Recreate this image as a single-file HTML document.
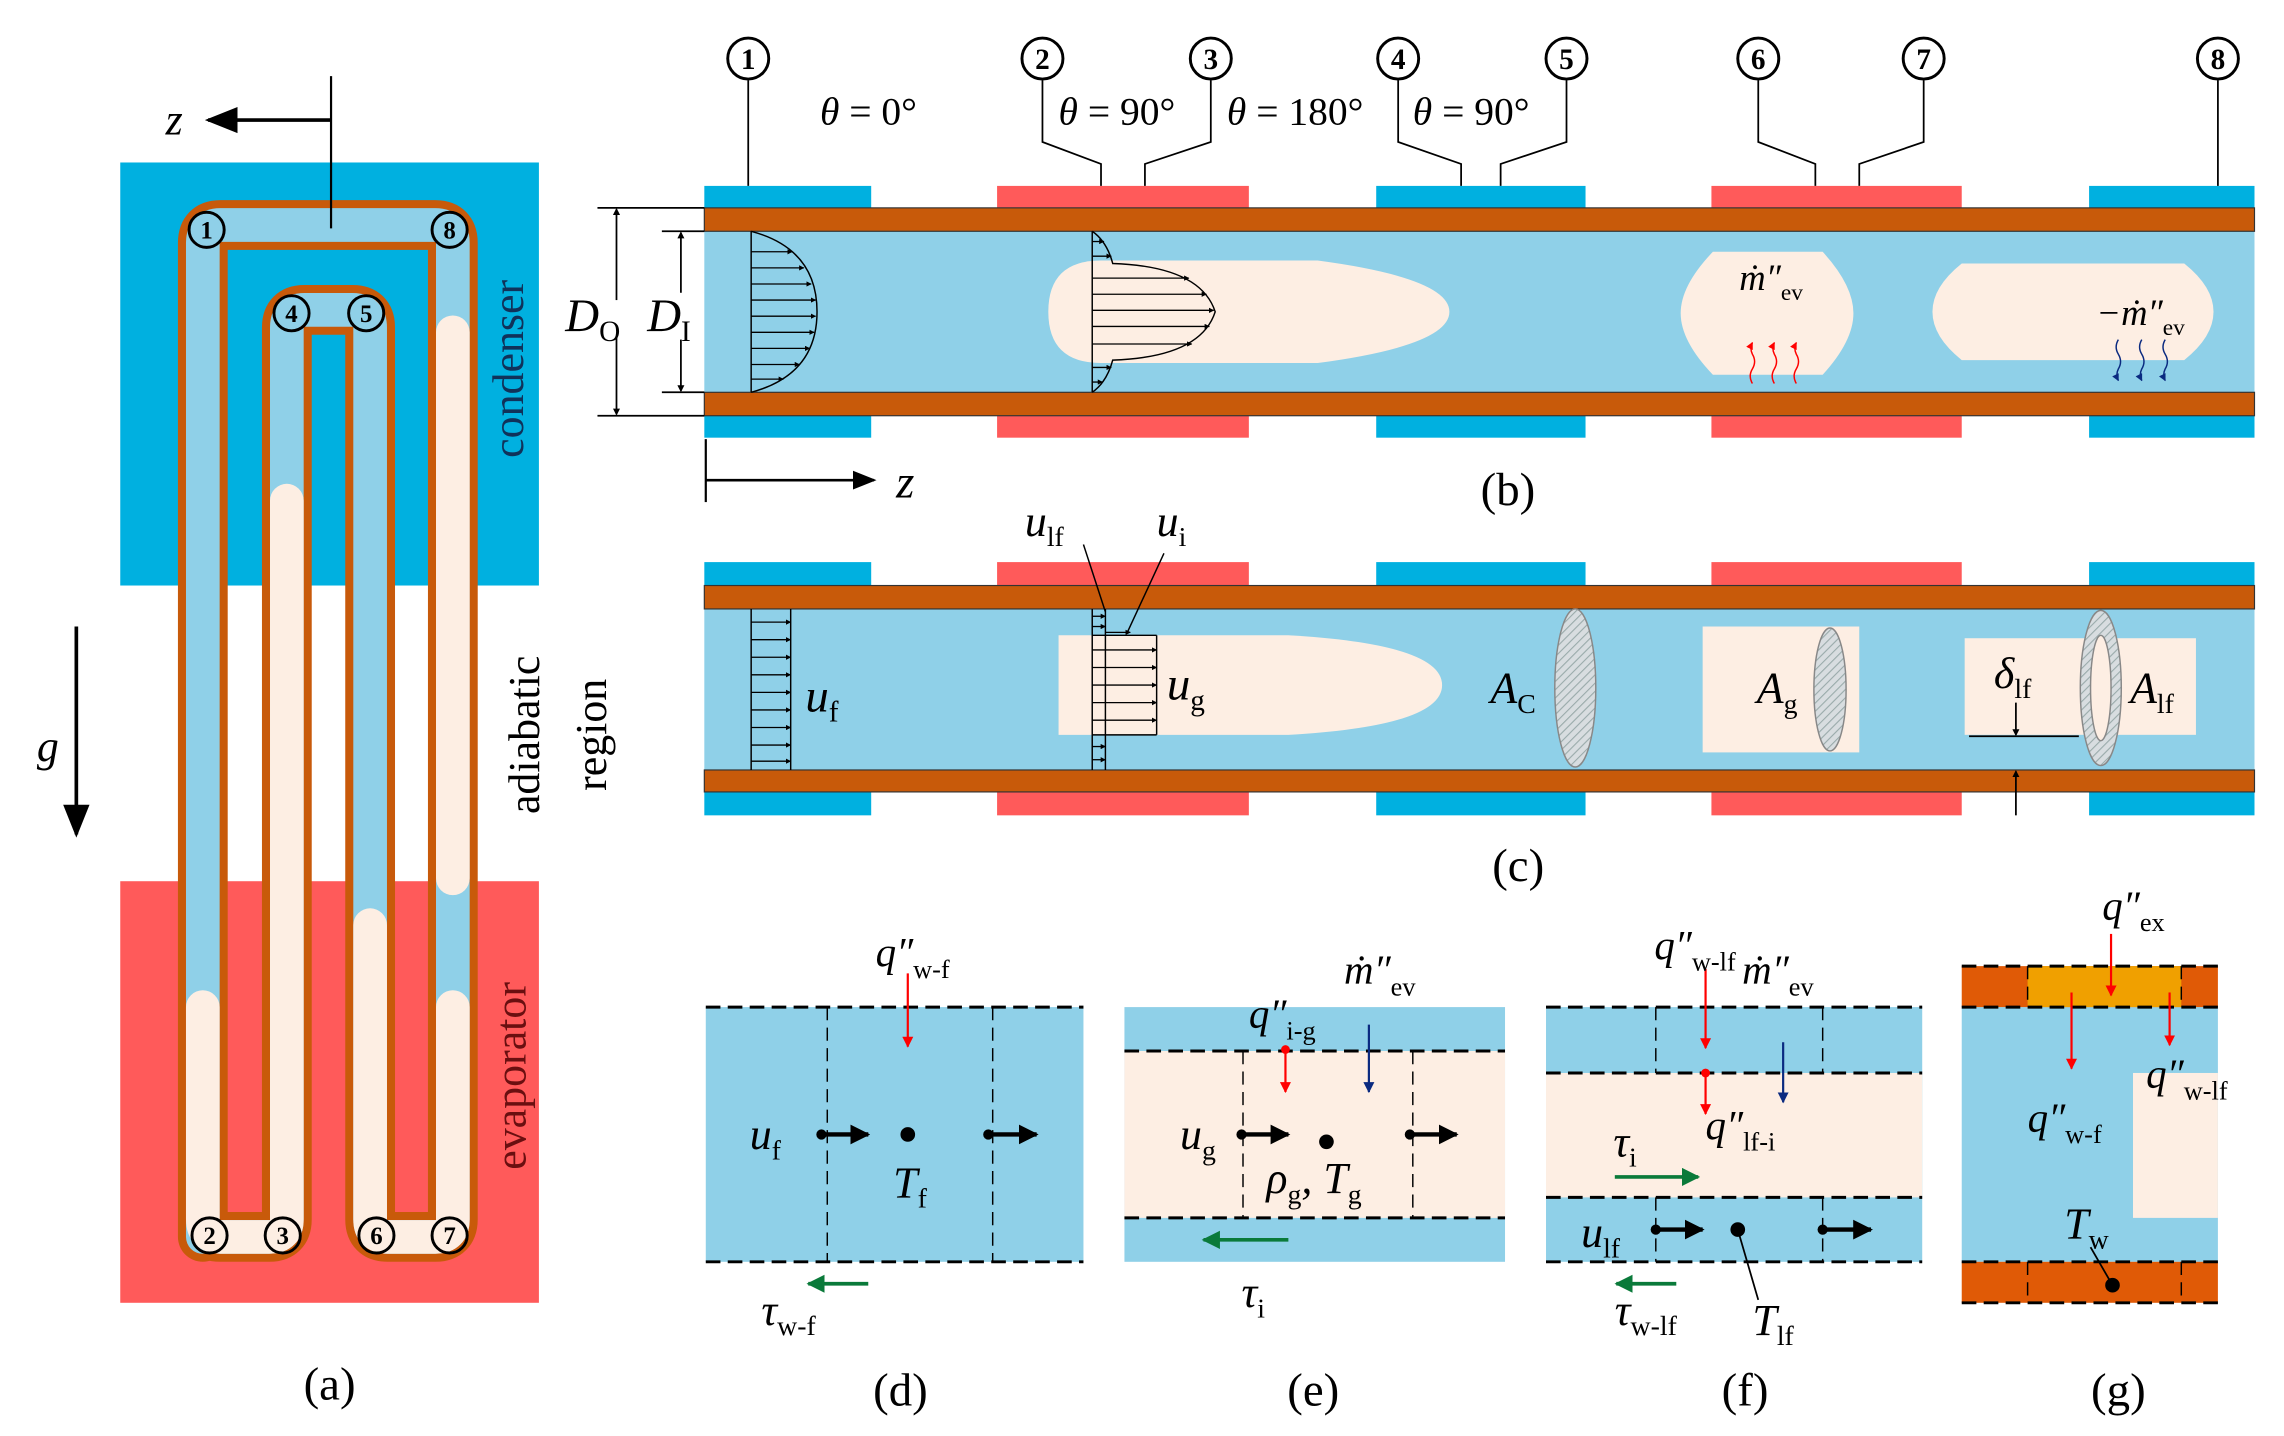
<!DOCTYPE html>
<html><head><meta charset="utf-8"><style>html,body{margin:0;padding:0;background:#fff}svg{display:block}
text{font-family:"Liberation Serif",serif;fill:#000}
.it{font-style:italic}
</style></head><body>
<svg width="2284" height="1436" viewBox="0 0 1560 981" xmlns="http://www.w3.org/2000/svg">
<defs>
<marker id="ah" viewBox="0 0 10 10" refX="9" refY="5" markerWidth="5" markerHeight="5" orient="auto"><path d="M0,0L10,5L0,10z" fill="#000"/></marker>
<marker id="ahs" viewBox="0 0 10 10" refX="9" refY="5" markerWidth="9" markerHeight="9" orient="auto"><path d="M0,1L10,5L0,9z" fill="#000"/></marker>
<marker id="ahm" viewBox="0 0 10 10" refX="9" refY="5" markerWidth="4.5" markerHeight="4.5" orient="auto"><path d="M0,0L10,5L0,10z" fill="#000"/></marker>
<marker id="ahb" viewBox="0 0 10 10" refX="9" refY="5" markerWidth="4" markerHeight="4" orient="auto"><path d="M0,0L10,5L0,10z" fill="#000"/></marker>
<marker id="ahr" viewBox="0 0 10 10" refX="9" refY="5" markerWidth="5" markerHeight="5" orient="auto"><path d="M0,0L10,5L0,10z" fill="#f00"/></marker>
<marker id="ahn" viewBox="0 0 10 10" refX="9" refY="5" markerWidth="5" markerHeight="5" orient="auto"><path d="M0,0L10,5L0,10z" fill="#0a2a80"/></marker>
<marker id="ahg" viewBox="0 0 10 10" refX="9" refY="5" markerWidth="5" markerHeight="5" orient="auto"><path d="M0,0L10,5L0,10z" fill="#0a7a3a"/></marker>
<marker id="ahk" viewBox="0 0 10 10" refX="8" refY="5" markerWidth="4" markerHeight="4" orient="auto"><path d="M0,0L10,5L0,10z" fill="#000"/></marker>
<pattern id="hatch" width="4" height="4" patternUnits="userSpaceOnUse" patternTransform="rotate(45)"><rect width="4" height="4" fill="#d8dde0"/><line x1="0" y1="0" x2="0" y2="4" stroke="#9aa" stroke-width="1.5"/></pattern>
</defs>

<!-- ===== Panel (a) ===== -->
<rect x="82" y="111" width="286" height="289" fill="#00b0e0"/>
<rect x="82" y="602" width="286" height="288" fill="#ff5a5a"/>
<path d="M138.4,845 V166 Q138.4,153.7 150.4,153.7 H297.2 Q309.2,153.7 309.2,166 V833 Q309.2,845 297.2,845 H264.7 Q252.7,845 252.7,833 V223.7 Q252.7,211.7 240.7,211.7 H207.8 Q195.8,211.7 195.8,223.7 V833 Q195.8,845 183.8,845 H150.4 Q138.4,845 138.4,833 Z" fill="none" stroke="#c85a0a" stroke-width="34" stroke-linejoin="round"/>
<path d="M138.4,845 V166 Q138.4,153.7 150.4,153.7 H297.2 Q309.2,153.7 309.2,166 V833 Q309.2,845 297.2,845 H264.7 Q252.7,845 252.7,833 V223.7 Q252.7,211.7 240.7,211.7 H207.8 Q195.8,211.7 195.8,223.7 V833 Q195.8,845 183.8,845 H150.4 Q138.4,845 138.4,833 Z" fill="none" stroke="#8fd0e8" stroke-width="23" stroke-linejoin="round"/>
<path d="M138.4,688 V833 Q138.4,845 150.4,845 H183.8 Q195.8,845 195.8,833 V342" fill="none" stroke="#fdeee3" stroke-width="23" stroke-linecap="round"/>
<path d="M252.7,632 V833 Q252.7,845 264.7,845 H297.2 Q309.2,845 309.2,833 V688" fill="none" stroke="#fdeee3" stroke-width="23" stroke-linecap="round"/>
<path d="M309.2,227 V600" fill="none" stroke="#fdeee3" stroke-width="23" stroke-linecap="round"/>
<g fill="none" stroke="#000" stroke-width="2">
<circle cx="141" cy="157" r="12"/><circle cx="307" cy="157" r="12"/>
<circle cx="199" cy="214" r="12"/><circle cx="250" cy="214" r="12"/>
<circle cx="143" cy="844" r="12"/><circle cx="193" cy="844" r="12"/>
<circle cx="257" cy="844" r="12"/><circle cx="307" cy="844" r="12"/>
</g>
<g font-weight="bold" font-size="17" text-anchor="middle" style="font-family:'Liberation Sans',sans-serif">
<text x="141" y="163">1</text><text x="307" y="163">8</text><text x="199" y="220">4</text><text x="250" y="220">5</text>
<text x="143" y="850">2</text><text x="193" y="850">3</text><text x="257" y="850">6</text><text x="307" y="850">7</text>
</g>
<line x1="226" y1="52" x2="226" y2="156" stroke="#000" stroke-width="1.5"/>
<line x1="226" y1="82" x2="142" y2="82" stroke="#000" stroke-width="2.5" marker-end="url(#ahs)"/>
<text x="113" y="92" class="it" font-size="30">z</text>
<line x1="52" y1="428" x2="52" y2="570" stroke="#000" stroke-width="2.5" marker-end="url(#ahs)"/>
<text x="25" y="520" class="it" font-size="30">g</text>
<text transform="translate(357,252) rotate(-90)" text-anchor="middle" font-size="30" style="fill:#10325a">condenser</text>
<text transform="translate(368,502) rotate(-90)" text-anchor="middle" font-size="30">adiabatic</text>
<text transform="translate(414,502) rotate(-90)" text-anchor="middle" font-size="30">region</text>
<text transform="translate(359,735) rotate(-90)" text-anchor="middle" font-size="30" style="fill:#6a0f10">evaporator</text>
<text x="225" y="956" text-anchor="middle" font-size="32">(a)</text>

<!-- ===== Panel (b) ===== -->
<g fill="#00b0e0"><rect x="481" y="127" width="114" height="15"/><rect x="940" y="127" width="143" height="15"/><rect x="1427" y="127" width="113" height="15"/>
<rect x="481" y="284" width="114" height="15"/><rect x="940" y="284" width="143" height="15"/><rect x="1427" y="284" width="113" height="15"/></g>
<g fill="#ff5a5a"><rect x="681" y="127" width="172" height="15"/><rect x="1169" y="127" width="171" height="15"/>
<rect x="681" y="284" width="172" height="15"/><rect x="1169" y="284" width="171" height="15"/></g>
<rect x="481" y="158" width="1059" height="110" fill="#8fd0e8"/>
<rect x="481" y="142" width="1059" height="16" fill="#c85a0a" stroke="#333" stroke-width="0.8"/>
<rect x="481" y="268" width="1059" height="16" fill="#c85a0a" stroke="#333" stroke-width="0.8"/>
<g fill="none" stroke="#000" stroke-width="2">
<circle cx="511" cy="40" r="14"/><circle cx="712" cy="40" r="14"/><circle cx="827" cy="40" r="14"/><circle cx="955" cy="40" r="14"/><circle cx="1070" cy="40" r="14"/><circle cx="1201" cy="40" r="14"/><circle cx="1314" cy="40" r="14"/><circle cx="1515" cy="40" r="14"/>
</g>
<g font-weight="bold" font-size="20" text-anchor="middle" style="font-family:'Liberation Sans',sans-serif">
<text x="511" y="47">1</text><text x="712" y="47">2</text><text x="827" y="47">3</text><text x="955" y="47">4</text><text x="1070" y="47">5</text><text x="1201" y="47">6</text><text x="1314" y="47">7</text><text x="1515" y="47">8</text>
</g>
<g fill="none" stroke="#000" stroke-width="1.2">
<path d="M511,55V127"/><path d="M712,55V97L752,112V127"/><path d="M827,55V97L782,112V127"/>
<path d="M955,55V97L998,112V127"/><path d="M1070,55V97L1025,112V127"/>
<path d="M1201,55V97L1240,112V127"/><path d="M1314,55V97L1270,112V127"/><path d="M1515,55V127"/>
</g>
<g font-size="27"><text x="560" y="85" class="it">θ <tspan font-style="normal">= 0°</tspan></text>
<text x="723" y="85" class="it">θ <tspan font-style="normal">= 90°</tspan></text>
<text x="838" y="85" class="it">θ <tspan font-style="normal">= 180°</tspan></text>
<text x="965" y="85" class="it">θ <tspan font-style="normal">= 90°</tspan></text></g>
<g stroke="#000" stroke-width="1.2" fill="none">
<path d="M408,142H481M408,284H481M452,158H481M452,268H481"/>
<line x1="421" y1="205" x2="421" y2="143" marker-end="url(#ahk)"/><line x1="421" y1="230" x2="421" y2="283" marker-end="url(#ahk)"/>
<line x1="465" y1="200" x2="465" y2="159" marker-end="url(#ahk)"/><line x1="465" y1="232" x2="465" y2="267" marker-end="url(#ahk)"/>
</g>
<text x="386" y="226" class="it" font-size="32">D<tspan font-style="normal" font-size="20" dy="7">O</tspan></text>
<text x="442" y="226" class="it" font-size="32">D<tspan font-style="normal" font-size="20" dy="7">I</tspan></text>
<path d="M752,178 H900 Q990,190 990,213 Q990,236 900,248 H752 Q716,248 716,213 Q716,178 752,178Z" fill="#fdeee3"/>
<g stroke="#000" stroke-width="1" fill="none">
<line x1="513" y1="158" x2="513" y2="268"/>
<path d="M513,158 Q558,170 558,213 Q558,256 513,268"/>
<line x1="746" y1="158" x2="746" y2="268"/>
<path d="M746,158 Q756,165 760,180 Q820,182 830,213 Q820,244 760,246 Q756,261 746,268"/>
</g>
<g stroke="#000" stroke-width="0.9" marker-end="url(#ahb)">
<line x1="513" y1="172" x2="541" y2="172"/><line x1="513" y1="183" x2="549" y2="183"/><line x1="513" y1="194" x2="554" y2="194"/><line x1="513" y1="205" x2="557" y2="205"/><line x1="513" y1="216" x2="557" y2="216"/><line x1="513" y1="227" x2="556" y2="227"/><line x1="513" y1="238" x2="553" y2="238"/><line x1="513" y1="249" x2="546" y2="249"/><line x1="513" y1="259" x2="535" y2="259"/>
<line x1="746" y1="165" x2="754" y2="165"/><line x1="746" y1="175" x2="759" y2="175"/><line x1="746" y1="190" x2="812" y2="190"/><line x1="746" y1="201" x2="824" y2="201"/><line x1="746" y1="212" x2="829" y2="212"/><line x1="746" y1="223" x2="826" y2="223"/><line x1="746" y1="235" x2="814" y2="235"/><line x1="746" y1="251" x2="759" y2="251"/><line x1="746" y1="261" x2="753" y2="261"/>
</g>
<path d="M1170,172 H1245 Q1266,195 1266,214 Q1266,233 1245,256 H1170 Q1148,233 1148,214 Q1148,195 1170,172Z" fill="#fdeee3"/>
<path d="M1340,180 H1492 Q1512,196 1512,213 Q1512,230 1492,246 H1340 Q1320,230 1320,213 Q1320,196 1340,180Z" fill="#fdeee3"/>
<text x="1188" y="198" class="it" font-size="25">ṁ″<tspan font-style="normal" font-size="16" dy="7">ev</tspan></text>
<text x="1432" y="222" class="it" font-size="25">−ṁ″<tspan font-style="normal" font-size="16" dy="7">ev</tspan></text>
<g stroke="#f00" stroke-width="1" fill="none" marker-end="url(#ahr)">
<path d="M1197,262 q-3,-5 0,-10 q3,-5 0,-10 q-2,-4 0,-8"/><path d="M1212,262 q-3,-5 0,-10 q3,-5 0,-10 q-2,-4 0,-8"/><path d="M1227,262 q-3,-5 0,-10 q3,-5 0,-10 q-2,-4 0,-8"/>
</g>
<g stroke="#0a2a80" stroke-width="1" fill="none" marker-end="url(#ahn)">
<path d="M1447,232 q-3,5 0,10 q3,5 0,10 q-2,4 0,8"/><path d="M1463,232 q-3,5 0,10 q3,5 0,10 q-2,4 0,8"/><path d="M1479,232 q-3,5 0,10 q3,5 0,10 q-2,4 0,8"/>
</g>
<line x1="482" y1="300" x2="482" y2="343" stroke="#000" stroke-width="1.5"/>
<line x1="482" y1="328" x2="597" y2="328" stroke="#000" stroke-width="1.8" marker-end="url(#ahs)"/>
<text x="612" y="340" class="it" font-size="32">z</text>
<text x="1030" y="345" text-anchor="middle" font-size="32">(b)</text>

<!-- ===== Panel (c) ===== -->
<g fill="#00b0e0"><rect x="481" y="384" width="114" height="16"/><rect x="940" y="384" width="143" height="16"/><rect x="1427" y="384" width="113" height="16"/>
<rect x="481" y="541" width="114" height="16"/><rect x="940" y="541" width="143" height="16"/><rect x="1427" y="541" width="113" height="16"/></g>
<g fill="#ff5a5a"><rect x="681" y="384" width="172" height="16"/><rect x="1169" y="384" width="171" height="16"/>
<rect x="681" y="541" width="172" height="16"/><rect x="1169" y="541" width="171" height="16"/></g>
<rect x="481" y="416" width="1059" height="110" fill="#8fd0e8"/>
<rect x="481" y="400" width="1059" height="16" fill="#c85a0a" stroke="#333" stroke-width="0.8"/>
<rect x="481" y="526" width="1059" height="15" fill="#c85a0a" stroke="#333" stroke-width="0.8"/>
<path d="M723,434 H880 Q985,440 985,468 Q985,496 880,502 H723Z" fill="#fdeee3"/>
<g stroke="#000" stroke-width="1" fill="none">
<line x1="513" y1="416" x2="513" y2="526"/><line x1="540" y1="416" x2="540" y2="526"/>
<line x1="746" y1="416" x2="746" y2="526"/><line x1="755" y1="416" x2="755" y2="526"/>
<line x1="746" y1="434" x2="790" y2="434"/><line x1="790" y1="434" x2="790" y2="502"/><line x1="746" y1="502" x2="790" y2="502"/>
<line x1="740" y1="372" x2="755" y2="418"/><line x1="795" y1="378" x2="770" y2="432"/>
</g>
<g stroke="#000" stroke-width="0.9" marker-end="url(#ahb)">
<line x1="513" y1="425" x2="540" y2="425"/><line x1="513" y1="437" x2="540" y2="437"/><line x1="513" y1="449" x2="540" y2="449"/><line x1="513" y1="461" x2="540" y2="461"/><line x1="513" y1="473" x2="540" y2="473"/><line x1="513" y1="485" x2="540" y2="485"/><line x1="513" y1="497" x2="540" y2="497"/><line x1="513" y1="509" x2="540" y2="509"/><line x1="513" y1="520" x2="540" y2="520"/>
<line x1="746" y1="421" x2="755" y2="421"/><line x1="746" y1="428" x2="755" y2="428"/><line x1="755" y1="432" x2="772" y2="432"/>
<line x1="746" y1="444" x2="790" y2="444"/><line x1="746" y1="456" x2="790" y2="456"/><line x1="746" y1="468" x2="790" y2="468"/><line x1="746" y1="480" x2="790" y2="480"/><line x1="746" y1="492" x2="790" y2="492"/>
<line x1="746" y1="510" x2="755" y2="510"/><line x1="746" y1="519" x2="755" y2="519"/>
</g>
<text x="550" y="486" class="it" font-size="32">u<tspan font-style="normal" font-size="20" dy="7">f</tspan></text>
<text x="797" y="478" class="it" font-size="32">u<tspan font-style="normal" font-size="20" dy="7">g</tspan></text>
<text x="700" y="366" class="it" font-size="30">u<tspan font-style="normal" font-size="19" dy="7">lf</tspan></text>
<text x="790" y="366" class="it" font-size="30">u<tspan font-style="normal" font-size="19" dy="7">i</tspan></text>
<ellipse cx="1076" cy="470" rx="14" ry="54" fill="url(#hatch)" stroke="#888" stroke-width="1"/>
<text x="1018" y="480" class="it" font-size="30">A<tspan font-style="normal" font-size="19" dy="7">C</tspan></text>
<rect x="1163" y="428" width="107" height="86" fill="#fdeee3"/>
<ellipse cx="1250" cy="471" rx="11" ry="42" fill="url(#hatch)" stroke="#888" stroke-width="1"/>
<text x="1200" y="480" class="it" font-size="30">A<tspan font-style="normal" font-size="19" dy="7">g</tspan></text>
<rect x="1342" y="436" width="158" height="66" fill="#fdeee3"/>
<ellipse cx="1435" cy="470" rx="14" ry="53" fill="url(#hatch)" stroke="#888" stroke-width="1"/>
<ellipse cx="1435" cy="470" rx="7" ry="36" fill="#fdeee3" stroke="#888" stroke-width="1"/>
<text x="1362" y="470" class="it" font-size="30">δ<tspan font-style="normal" font-size="19" dy="7">lf</tspan></text>
<text x="1455" y="480" class="it" font-size="30">A<tspan font-style="normal" font-size="19" dy="7">lf</tspan></text>
<g stroke="#000" stroke-width="1.2"><line x1="1377" y1="480" x2="1377" y2="502" marker-end="url(#ahk)"/><line x1="1345" y1="503" x2="1420" y2="503"/><line x1="1377" y1="557" x2="1377" y2="527" marker-end="url(#ahk)"/></g>
<text x="1037" y="602" text-anchor="middle" font-size="32">(c)</text>

<!-- ===== Panel (d) ===== -->
<rect x="482" y="688" width="258" height="174" fill="#8fd0e8"/>
<g stroke="#000" stroke-width="2" stroke-dasharray="10,5" fill="none"><line x1="482" y1="688" x2="740" y2="688"/><line x1="482" y1="862" x2="740" y2="862"/></g>
<g stroke="#000" stroke-width="1" stroke-dasharray="9,5"><line x1="565" y1="688" x2="565" y2="862"/><line x1="678" y1="688" x2="678" y2="862"/></g>
<line x1="620" y1="665" x2="620" y2="715" stroke="#f00" stroke-width="1.5" marker-end="url(#ahr)"/>
<text x="598" y="660" class="it" font-size="28">q″<tspan font-style="normal" font-size="18" dy="8">w-f</tspan></text>
<text x="512" y="785" class="it" font-size="30">u<tspan font-style="normal" font-size="19" dy="7">f</tspan></text>
<g stroke="#000" stroke-width="3" marker-end="url(#ahm)"><line x1="561" y1="775" x2="593" y2="775"/><line x1="675" y1="775" x2="708" y2="775"/></g>
<circle cx="561" cy="775" r="3.5"/><circle cx="675" cy="775" r="3.5"/>
<circle cx="620" cy="775" r="5"/>
<text x="610" y="818" class="it" font-size="30">T<tspan font-style="normal" font-size="19" dy="7">f</tspan></text>
<line x1="593" y1="877" x2="552" y2="877" stroke="#0a7a3a" stroke-width="2.5" marker-end="url(#ahg)"/>
<text x="520" y="905" class="it" font-size="30">τ<tspan font-style="normal" font-size="19" dy="7">w-f</tspan></text>
<text x="615" y="960" text-anchor="middle" font-size="32">(d)</text>

<!-- ===== Panel (e) ===== -->
<rect x="768" y="688" width="260" height="174" fill="#8fd0e8"/>
<rect x="768" y="718" width="260" height="114" fill="#fdeee3"/>
<g stroke="#000" stroke-width="2" stroke-dasharray="10,5"><line x1="768" y1="718" x2="1028" y2="718"/><line x1="768" y1="832" x2="1028" y2="832"/></g>
<g stroke="#000" stroke-width="1" stroke-dasharray="9,5"><line x1="849" y1="718" x2="849" y2="832"/><line x1="965" y1="718" x2="965" y2="832"/></g>
<circle cx="878" cy="717" r="3" fill="#f00"/>
<line x1="878" y1="717" x2="878" y2="746" stroke="#f00" stroke-width="1.5" marker-end="url(#ahr)"/>
<line x1="935" y1="700" x2="935" y2="746" stroke="#0a2a80" stroke-width="1.5" marker-end="url(#ahn)"/>
<text x="853" y="702" class="it" font-size="28">q″<tspan font-style="normal" font-size="18" dy="8">i-g</tspan></text>
<text x="918" y="672" class="it" font-size="28">ṁ″<tspan font-style="normal" font-size="18" dy="8">ev</tspan></text>
<text x="806" y="785" class="it" font-size="30">u<tspan font-style="normal" font-size="19" dy="7">g</tspan></text>
<g stroke="#000" stroke-width="3" marker-end="url(#ahm)"><line x1="848" y1="775" x2="880" y2="775"/><line x1="963" y1="775" x2="995" y2="775"/></g>
<circle cx="848" cy="775" r="3.5"/><circle cx="963" cy="775" r="3.5"/>
<circle cx="906" cy="780" r="5"/>
<text x="865" y="815" class="it" font-size="30">ρ<tspan font-style="normal" font-size="19" dy="7">g</tspan><tspan dy="-7">, T</tspan><tspan font-style="normal" font-size="19" dy="7">g</tspan></text>
<line x1="880" y1="847" x2="822" y2="847" stroke="#0a7a3a" stroke-width="2.5" marker-end="url(#ahg)"/>
<text x="848" y="893" class="it" font-size="30">τ<tspan font-style="normal" font-size="19" dy="7">i</tspan></text>
<text x="897" y="960" text-anchor="middle" font-size="32">(e)</text>

<!-- ===== Panel (f) ===== -->
<rect x="1056" y="688" width="257" height="174" fill="#8fd0e8"/>
<rect x="1056" y="733" width="257" height="85" fill="#fdeee3"/>
<g stroke="#000" stroke-width="2" stroke-dasharray="10,5"><line x1="1056" y1="688" x2="1313" y2="688"/><line x1="1056" y1="733" x2="1313" y2="733"/><line x1="1056" y1="818" x2="1313" y2="818"/><line x1="1056" y1="862" x2="1313" y2="862"/></g>
<g stroke="#000" stroke-width="1" stroke-dasharray="9,5"><line x1="1131" y1="688" x2="1131" y2="733"/><line x1="1245" y1="688" x2="1245" y2="733"/><line x1="1131" y1="818" x2="1131" y2="862"/><line x1="1245" y1="818" x2="1245" y2="862"/></g>
<line x1="1165" y1="662" x2="1165" y2="716" stroke="#f00" stroke-width="1.5" marker-end="url(#ahr)"/>
<circle cx="1165" cy="733" r="3" fill="#f00"/>
<line x1="1165" y1="733" x2="1165" y2="761" stroke="#f00" stroke-width="1.5" marker-end="url(#ahr)"/>
<line x1="1218" y1="712" x2="1218" y2="753" stroke="#0a2a80" stroke-width="1.5" marker-end="url(#ahn)"/>
<text x="1130" y="655" class="it" font-size="28">q″<tspan font-style="normal" font-size="18" dy="8">w-lf</tspan></text>
<text x="1190" y="672" class="it" font-size="28">ṁ″<tspan font-style="normal" font-size="18" dy="8">ev</tspan></text>
<text x="1165" y="778" class="it" font-size="28">q″<tspan font-style="normal" font-size="18" dy="8">lf-i</tspan></text>
<text x="1102" y="790" class="it" font-size="30">τ<tspan font-style="normal" font-size="19" dy="7">i</tspan></text>
<line x1="1103" y1="804" x2="1160" y2="804" stroke="#0a7a3a" stroke-width="2.5" marker-end="url(#ahg)"/>
<text x="1080" y="852" class="it" font-size="30">u<tspan font-style="normal" font-size="19" dy="7">lf</tspan></text>
<g stroke="#000" stroke-width="3" marker-end="url(#ahm)"><line x1="1131" y1="840" x2="1163" y2="840"/><line x1="1245" y1="840" x2="1278" y2="840"/></g>
<circle cx="1131" cy="840" r="3.5"/><circle cx="1245" cy="840" r="3.5"/>
<circle cx="1187" cy="840" r="5"/>
<line x1="1187" y1="840" x2="1201" y2="888" stroke="#000" stroke-width="1.2"/>
<line x1="1145" y1="877" x2="1104" y2="877" stroke="#0a7a3a" stroke-width="2.5" marker-end="url(#ahg)"/>
<text x="1103" y="905" class="it" font-size="30">τ<tspan font-style="normal" font-size="19" dy="7">w-lf</tspan></text>
<text x="1197" y="912" class="it" font-size="30">T<tspan font-style="normal" font-size="19" dy="7">lf</tspan></text>
<text x="1192" y="960" text-anchor="middle" font-size="32">(f)</text>

<!-- ===== Panel (g) ===== -->
<rect x="1340" y="688" width="175" height="174" fill="#8fd0e8"/>
<rect x="1457" y="733" width="58" height="99" fill="#fdeee3"/>
<rect x="1340" y="660" width="175" height="28" fill="#e05a06"/>
<rect x="1385" y="660" width="105" height="28" fill="#f0a000"/>
<rect x="1340" y="862" width="175" height="28" fill="#e05a06"/>
<g stroke="#000" stroke-width="2" stroke-dasharray="10,5"><line x1="1340" y1="660" x2="1515" y2="660"/><line x1="1340" y1="688" x2="1515" y2="688"/><line x1="1340" y1="862" x2="1515" y2="862"/><line x1="1340" y1="890" x2="1515" y2="890"/></g>
<g stroke="#000" stroke-width="1" stroke-dasharray="9,5"><line x1="1385" y1="660" x2="1385" y2="688"/><line x1="1490" y1="660" x2="1490" y2="688"/><line x1="1385" y1="862" x2="1385" y2="890"/><line x1="1490" y1="862" x2="1490" y2="890"/></g>
<line x1="1442" y1="638" x2="1442" y2="680" stroke="#f00" stroke-width="1.5" marker-end="url(#ahr)"/>
<line x1="1415" y1="678" x2="1415" y2="730" stroke="#f00" stroke-width="1.5" marker-end="url(#ahr)"/>
<line x1="1482" y1="678" x2="1482" y2="714" stroke="#f00" stroke-width="1.5" marker-end="url(#ahr)"/>
<text x="1436" y="628" class="it" font-size="28">q″<tspan font-style="normal" font-size="18" dy="8">ex</tspan></text>
<text x="1385" y="773" class="it" font-size="28">q″<tspan font-style="normal" font-size="18" dy="8">w-f</tspan></text>
<text x="1466" y="743" class="it" font-size="28">q″<tspan font-style="normal" font-size="18" dy="8">w-lf</tspan></text>
<text x="1410" y="846" class="it" font-size="30">T<tspan font-style="normal" font-size="19" dy="7">w</tspan></text>
<line x1="1428" y1="852" x2="1443" y2="878" stroke="#000" stroke-width="1.2"/>
<circle cx="1443" cy="878" r="5"/>
<text x="1447" y="960" text-anchor="middle" font-size="32">(g)</text>
</svg>
</body></html>
